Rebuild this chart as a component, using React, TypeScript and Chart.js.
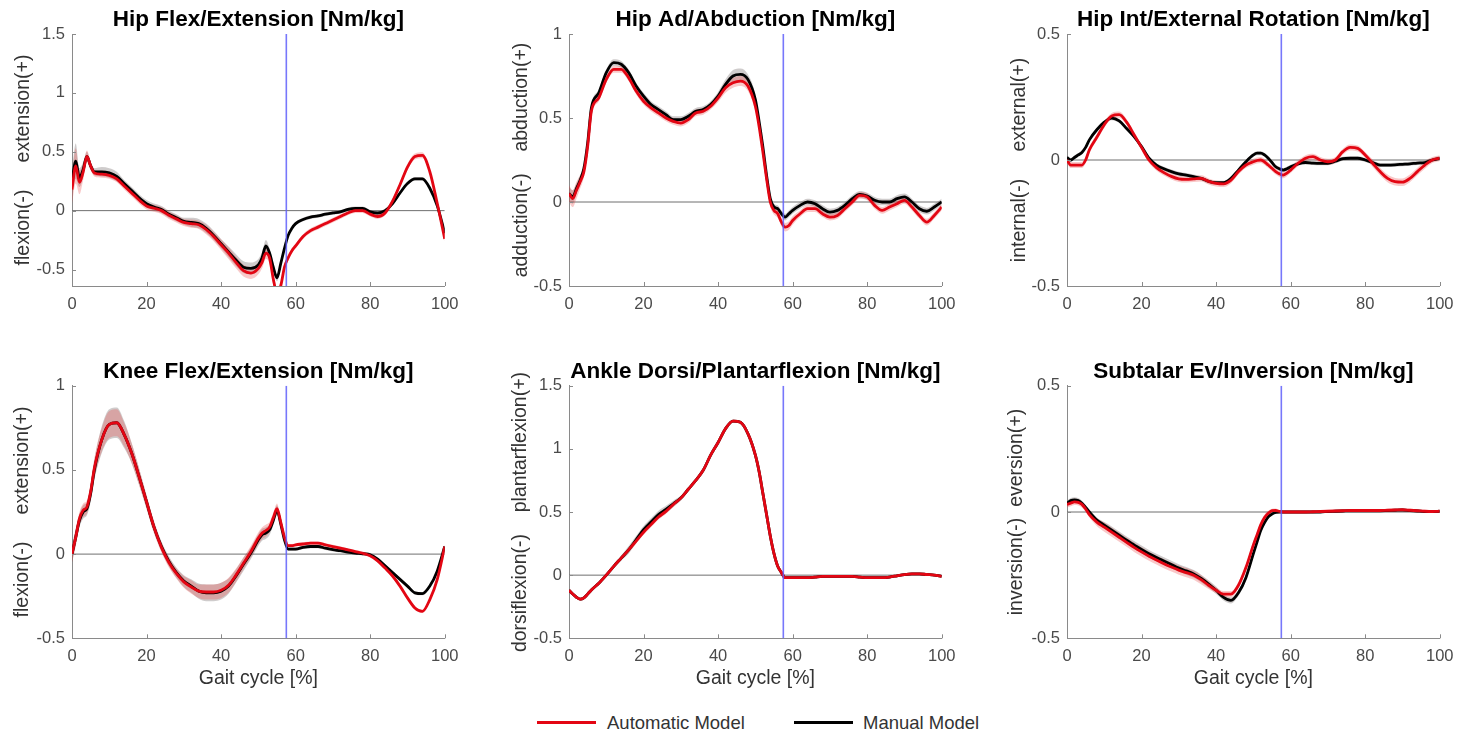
import React, { useEffect, useRef } from "react";
import { Chart, registerables } from "chart.js";

Chart.register(...registerables);

// ---------------- data ----------------
// gait cycle sample points [%]
const X = [
  0, 1, 2, 3, 4, 5, 6,
  8, 10, 12, 14, 16, 18, 20, 22, 24, 26, 28, 30, 32, 34, 36, 38, 40, 42, 44, 46, 48, 50,
  51, 52, 53, 54, 55, 56, 57, 58, 59, 60,
  62, 64, 66, 68, 70, 72, 74, 76, 78, 80, 82, 84, 86, 88, 90, 92, 94, 96, 98, 100,
];
const X_TICKS = [0, 20, 40, 60, 80, 100];
const TOE_OFF = 57.5;

// Hip flexion / extension
const HIP_FLEX_AUTO = [
  0.18, 0.38, 0.24, 0.33, 0.46, 0.38, 0.32,
  0.31, 0.30, 0.27, 0.21, 0.15, 0.09, 0.04, 0.02, 0.00, -0.04, -0.07, -0.10, -0.11, -0.12, -0.16, -0.22, -0.29, -0.36, -0.44, -0.51, -0.53, -0.49,
  -0.44, -0.36, -0.40, -0.58, -0.70, -0.64, -0.48, -0.40, -0.34, -0.30,
  -0.22, -0.17, -0.14, -0.11, -0.08, -0.05, -0.02, 0.00, 0.00, -0.03, -0.05, -0.02, 0.08, 0.22, 0.37, 0.46, 0.47, 0.33, 0.06, -0.24,
];
const HIP_FLEX_MANUAL = [
  0.25, 0.42, 0.28, 0.35, 0.46, 0.38, 0.33,
  0.33, 0.32, 0.29, 0.23, 0.17, 0.11, 0.06, 0.03, 0.01, -0.03, -0.06, -0.09, -0.10, -0.11, -0.15, -0.21, -0.28, -0.35, -0.42, -0.48, -0.49, -0.46,
  -0.40, -0.30, -0.36, -0.48, -0.57, -0.45, -0.32, -0.21, -0.15, -0.11,
  -0.075, -0.055, -0.045, -0.03, -0.02, -0.01, 0.01, 0.02, 0.02, -0.01, -0.02, 0.00, 0.06, 0.15, 0.23, 0.27, 0.27, 0.19, 0.04, -0.19,
];
const HIP_FLEX_AUTO_SD = [
  0.12, 0.15, 0.10, 0.07, 0.05, 0.04, 0.03,
  0.03, 0.03, 0.03, 0.03, 0.03, 0.03, 0.03, 0.03, 0.03, 0.03, 0.03, 0.03, 0.035, 0.035, 0.04, 0.04, 0.045, 0.05, 0.05, 0.05, 0.05, 0.05,
  0.05, 0.05, 0.05, 0.05, 0.05, 0.04, 0.03, 0.025, 0.02, 0.02,
  0.02, 0.02, 0.02, 0.02, 0.02, 0.02, 0.02, 0.02, 0.02, 0.02, 0.02, 0.02, 0.02, 0.02, 0.025, 0.025, 0.025, 0.02, 0.02, 0.02,
];
const HIP_FLEX_MANUAL_SD = [
  0.10, 0.15, 0.08, 0.06, 0.04, 0.03, 0.03,
  0.04, 0.04, 0.04, 0.03, 0.03, 0.03, 0.03, 0.03, 0.03, 0.03, 0.03, 0.03, 0.04, 0.04, 0.04, 0.04, 0.04, 0.045, 0.05, 0.05, 0.05, 0.05,
  0.05, 0.05, 0.04, 0.04, 0.03, 0.03, 0.02, 0.015, 0.015, 0.015,
  0.015, 0.015, 0.015, 0.015, 0.015, 0.015, 0.015, 0.015, 0.015, 0.015, 0.015, 0.015, 0.015, 0.015, 0.015, 0.015, 0.015, 0.015, 0.015, 0.015,
];

// Hip adduction / abduction
const HIP_AB_AUTO = [
  0.05, 0.02, 0.07, 0.12, 0.18, 0.33, 0.54,
  0.62, 0.73, 0.79, 0.79, 0.74, 0.66, 0.60, 0.56, 0.53, 0.50, 0.48, 0.47, 0.49, 0.53, 0.54, 0.57, 0.62, 0.68, 0.71, 0.72, 0.69, 0.57,
  0.45, 0.30, 0.14, 0.00, -0.05, -0.07, -0.12, -0.15, -0.14, -0.11,
  -0.07, -0.04, -0.04, -0.07, -0.09, -0.08, -0.04, 0.00, 0.04, 0.03, -0.02, -0.05, -0.03, -0.01, 0.01, -0.03, -0.08, -0.12, -0.08, -0.03,
];
const HIP_AB_MANUAL = [
  0.05, 0.03, 0.08, 0.13, 0.20, 0.35, 0.56,
  0.65, 0.77, 0.83, 0.82, 0.77, 0.69, 0.63, 0.58, 0.55, 0.52, 0.49, 0.49, 0.51, 0.54, 0.55, 0.58, 0.63, 0.70, 0.75, 0.76, 0.73, 0.61,
  0.48, 0.33, 0.16, 0.02, -0.03, -0.04, -0.07, -0.09, -0.07, -0.05,
  -0.02, 0.00, -0.01, -0.04, -0.06, -0.05, -0.02, 0.02, 0.045, 0.035, 0.01, 0.00, 0.00, 0.02, 0.03, 0.00, -0.04, -0.055, -0.03, 0.00,
];
const HIP_AB_AUTO_SD = [
  0.05, 0.05, 0.05, 0.04, 0.03, 0.02, 0.02,
  0.02, 0.02, 0.02, 0.02, 0.02, 0.02, 0.02, 0.02, 0.02, 0.02, 0.02, 0.02, 0.02, 0.02, 0.02, 0.02, 0.025, 0.03, 0.03, 0.03, 0.03, 0.03,
  0.025, 0.025, 0.025, 0.025, 0.025, 0.025, 0.025, 0.025, 0.025, 0.025,
  0.02, 0.02, 0.02, 0.02, 0.02, 0.02, 0.02, 0.02, 0.02, 0.02, 0.02, 0.02, 0.02, 0.02, 0.02, 0.02, 0.02, 0.02, 0.02, 0.02,
];
const HIP_AB_MANUAL_SD = [
  0.04, 0.04, 0.03, 0.03, 0.02, 0.02, 0.02,
  0.02, 0.02, 0.02, 0.02, 0.02, 0.02, 0.02, 0.02, 0.02, 0.02, 0.02, 0.02, 0.02, 0.02, 0.02, 0.02, 0.025, 0.03, 0.035, 0.035, 0.03, 0.03,
  0.02, 0.02, 0.02, 0.02, 0.02, 0.02, 0.02, 0.02, 0.02, 0.02,
  0.02, 0.02, 0.02, 0.02, 0.02, 0.02, 0.02, 0.02, 0.02, 0.02, 0.02, 0.02, 0.02, 0.02, 0.02, 0.02, 0.02, 0.02, 0.02, 0.02,
];

// Hip internal / external rotation
const HIP_ROT_AUTO = [
  0.00, -0.02, -0.02, -0.02, -0.02, 0.00, 0.04,
  0.09, 0.14, 0.175, 0.18, 0.15, 0.10, 0.05, 0.00, -0.03, -0.05, -0.065, -0.075, -0.077, -0.075, -0.073, -0.085, -0.093, -0.095, -0.08, -0.046, -0.02, -0.007,
  -0.002, 0.00, -0.008, -0.02, -0.033, -0.046, -0.055, -0.06, -0.052, -0.04,
  -0.013, 0.007, 0.013, 0.00, -0.007, 0.00, 0.033, 0.05, 0.046, 0.02, -0.013, -0.046, -0.073, -0.086, -0.088, -0.073, -0.046, -0.02, 0.00, 0.007,
];
const HIP_ROT_MANUAL = [
  0.01, 0.00, 0.01, 0.02, 0.03, 0.05, 0.08,
  0.12, 0.15, 0.166, 0.155, 0.125, 0.093, 0.053, 0.007, -0.02, -0.035, -0.046, -0.055, -0.06, -0.066, -0.073, -0.085, -0.09, -0.09, -0.073, -0.04, -0.007, 0.02,
  0.027, 0.027, 0.02, 0.007, -0.01, -0.027, -0.035, -0.04, -0.035, -0.027,
  -0.015, -0.01, -0.012, -0.013, -0.013, -0.005, 0.005, 0.007, 0.007, 0.00, -0.01, -0.02, -0.02, -0.019, -0.017, -0.015, -0.012, -0.01, 0.00, 0.007,
];
const HIP_ROT_AUTO_SD = [
  0.012, 0.012, 0.012, 0.012, 0.012, 0.012, 0.012,
  0.012, 0.012, 0.012, 0.012, 0.012, 0.012, 0.012, 0.012, 0.012, 0.012, 0.012, 0.012, 0.012, 0.012, 0.012, 0.012, 0.012, 0.012, 0.012, 0.012, 0.012, 0.012,
  0.012, 0.012, 0.012, 0.012, 0.012, 0.012, 0.012, 0.012, 0.012, 0.012,
  0.012, 0.012, 0.012, 0.012, 0.012, 0.012, 0.012, 0.012, 0.012, 0.012, 0.015, 0.015, 0.015, 0.015, 0.015, 0.015, 0.015, 0.015, 0.012, 0.012,
];
const HIP_ROT_MANUAL_SD = [
  0.008, 0.008, 0.008, 0.008, 0.008, 0.008, 0.008,
  0.008, 0.008, 0.008, 0.008, 0.008, 0.008, 0.008, 0.008, 0.008, 0.008, 0.008, 0.008, 0.008, 0.008, 0.008, 0.008, 0.008, 0.008, 0.008, 0.008, 0.008, 0.008,
  0.008, 0.008, 0.008, 0.008, 0.008, 0.008, 0.008, 0.008, 0.008, 0.008,
  0.008, 0.008, 0.008, 0.008, 0.008, 0.008, 0.008, 0.008, 0.008, 0.008, 0.008, 0.008, 0.008, 0.008, 0.008, 0.008, 0.008, 0.008, 0.008, 0.008,
];

// Knee flexion / extension
const KNEE_AUTO = [
  0.00, 0.10, 0.21, 0.26, 0.28, 0.37, 0.51,
  0.68, 0.77, 0.78, 0.71, 0.60, 0.46, 0.31, 0.16, 0.04, -0.05, -0.115, -0.165, -0.195, -0.22, -0.225, -0.225, -0.215, -0.185, -0.125, -0.055, 0.015, 0.095,
  0.125, 0.14, 0.16, 0.215, 0.27, 0.19, 0.10, 0.05, 0.05, 0.055,
  0.06, 0.065, 0.065, 0.055, 0.045, 0.035, 0.025, 0.015, 0.005, -0.01, -0.04, -0.083, -0.13, -0.19, -0.26, -0.32, -0.34, -0.27, -0.15, 0.045,
];
const KNEE_MANUAL = [
  0.00, 0.10, 0.20, 0.25, 0.27, 0.36, 0.50,
  0.68, 0.77, 0.78, 0.71, 0.60, 0.46, 0.31, 0.16, 0.045, -0.043, -0.11, -0.16, -0.19, -0.22, -0.23, -0.23, -0.22, -0.19, -0.13, -0.06, 0.006, 0.085,
  0.115, 0.125, 0.144, 0.20, 0.26, 0.18, 0.085, 0.03, 0.03, 0.03,
  0.04, 0.045, 0.045, 0.035, 0.026, 0.02, 0.012, 0.006, 0.002, -0.004, -0.03, -0.07, -0.11, -0.15, -0.19, -0.23, -0.235, -0.19, -0.10, 0.045,
];
const KNEE_AUTO_SD = [
  0.05, 0.05, 0.04, 0.04, 0.04, 0.05, 0.06,
  0.07, 0.08, 0.08, 0.07, 0.06, 0.05, 0.04, 0.035, 0.03, 0.03, 0.03, 0.035, 0.04, 0.04, 0.045, 0.045, 0.045, 0.045, 0.04, 0.035, 0.035, 0.035,
  0.035, 0.035, 0.03, 0.03, 0.03, 0.02, 0.015, 0.01, 0.01, 0.01,
  0.01, 0.01, 0.01, 0.01, 0.01, 0.01, 0.01, 0.01, 0.01, 0.01, 0.01, 0.01, 0.01, 0.01, 0.01, 0.01, 0.01, 0.01, 0.01, 0.01,
];
const KNEE_MANUAL_SD = [
  0.05, 0.05, 0.04, 0.04, 0.04, 0.05, 0.06,
  0.08, 0.09, 0.09, 0.08, 0.06, 0.05, 0.04, 0.035, 0.03, 0.03, 0.03, 0.035, 0.04, 0.045, 0.05, 0.05, 0.05, 0.045, 0.04, 0.04, 0.035, 0.035,
  0.035, 0.035, 0.03, 0.03, 0.03, 0.02, 0.015, 0.01, 0.01, 0.01,
  0.01, 0.01, 0.01, 0.01, 0.01, 0.01, 0.01, 0.01, 0.01, 0.01, 0.01, 0.01, 0.01, 0.01, 0.01, 0.01, 0.01, 0.01, 0.01, 0.01,
];

// Ankle dorsi / plantarflexion
const ANKLE_AUTO = [
  -0.12, -0.15, -0.175, -0.19, -0.18, -0.15, -0.117,
  -0.064, 0.00, 0.07, 0.135, 0.20, 0.27, 0.34, 0.40, 0.46, 0.505, 0.56, 0.61, 0.68, 0.75, 0.83, 0.95, 1.05, 1.16, 1.22, 1.21, 1.12, 0.95,
  0.82, 0.65, 0.48, 0.31, 0.17, 0.07, 0.02, -0.02, -0.02, -0.02,
  -0.02, -0.02, -0.015, -0.01, -0.01, -0.01, -0.01, -0.01, -0.015, -0.02, -0.02, -0.02, -0.015, -0.005, 0.005, 0.01, 0.01, 0.005, 0.00, -0.01,
];
const ANKLE_MANUAL = [
  -0.12, -0.15, -0.175, -0.19, -0.18, -0.15, -0.117,
  -0.064, 0.00, 0.07, 0.135, 0.20, 0.28, 0.36, 0.42, 0.48, 0.52, 0.565, 0.61, 0.68, 0.75, 0.83, 0.95, 1.05, 1.16, 1.22, 1.21, 1.12, 0.95,
  0.82, 0.65, 0.48, 0.31, 0.17, 0.07, 0.02, -0.02, -0.02, -0.02,
  -0.02, -0.02, -0.015, -0.01, -0.01, -0.01, -0.01, -0.01, -0.015, -0.02, -0.02, -0.02, -0.015, -0.005, 0.005, 0.01, 0.01, 0.005, 0.00, -0.01,
];
const ANKLE_AUTO_SD = [
  0.012, 0.012, 0.012, 0.012, 0.012, 0.012, 0.012,
  0.012, 0.012, 0.012, 0.015, 0.02, 0.02, 0.02, 0.02, 0.02, 0.02, 0.02, 0.015, 0.012, 0.012, 0.012, 0.012, 0.012, 0.012, 0.012, 0.012, 0.012, 0.012,
  0.012, 0.012, 0.012, 0.012, 0.012, 0.012, 0.012, 0.01, 0.01, 0.01,
  0.01, 0.01, 0.01, 0.01, 0.01, 0.01, 0.01, 0.01, 0.01, 0.01, 0.01, 0.01, 0.01, 0.01, 0.01, 0.01, 0.01, 0.01, 0.01, 0.01,
];
const ANKLE_MANUAL_SD = [
  0.01, 0.01, 0.01, 0.01, 0.01, 0.01, 0.01,
  0.01, 0.01, 0.015, 0.02, 0.03, 0.03, 0.03, 0.03, 0.03, 0.03, 0.025, 0.02, 0.015, 0.01, 0.01, 0.01, 0.01, 0.01, 0.01, 0.01, 0.01, 0.01,
  0.01, 0.01, 0.01, 0.01, 0.01, 0.01, 0.01, 0.008, 0.008, 0.008,
  0.008, 0.008, 0.008, 0.008, 0.008, 0.008, 0.008, 0.008, 0.008, 0.008, 0.008, 0.008, 0.008, 0.008, 0.008, 0.008, 0.008, 0.008, 0.008, 0.008,
];

// Subtalar eversion / inversion
const SUBTALAR_AUTO = [
  0.03, 0.035, 0.04, 0.038, 0.03, 0.012, -0.01,
  -0.04, -0.06, -0.08, -0.10, -0.12, -0.14, -0.158, -0.175, -0.19, -0.205, -0.218, -0.23, -0.24, -0.25, -0.268, -0.29, -0.31, -0.325, -0.325, -0.29, -0.22, -0.13,
  -0.09, -0.05, -0.022, -0.005, 0.005, 0.006, 0.002, 0.00, 0.00, 0.00,
  0.00, 0.00, 0.001, 0.002, 0.003, 0.004, 0.005, 0.006, 0.006, 0.006, 0.006, 0.006, 0.007, 0.008, 0.009, 0.007, 0.005, 0.003, 0.002, 0.003,
];
const SUBTALAR_MANUAL = [
  0.035, 0.045, 0.048, 0.045, 0.035, 0.018, 0.00,
  -0.032, -0.052, -0.072, -0.092, -0.112, -0.13, -0.148, -0.165, -0.18, -0.194, -0.208, -0.222, -0.233, -0.245, -0.263, -0.285, -0.31, -0.338, -0.35, -0.32, -0.26, -0.165,
  -0.118, -0.072, -0.042, -0.019, -0.008, -0.002, 0.00, 0.00, 0.00, 0.00,
  0.00, 0.00, 0.00, 0.00, 0.002, 0.003, 0.004, 0.005, 0.005, 0.005, 0.005, 0.005, 0.006, 0.007, 0.008, 0.006, 0.004, 0.002, 0.002, 0.003,
];
const SUBTALAR_AUTO_SD = [
  0.012, 0.012, 0.012, 0.012, 0.012, 0.012, 0.012,
  0.015, 0.018, 0.018, 0.018, 0.018, 0.018, 0.018, 0.018, 0.018, 0.018, 0.018, 0.018, 0.018, 0.018, 0.018, 0.015, 0.012, 0.012, 0.012, 0.012, 0.012, 0.012,
  0.012, 0.012, 0.012, 0.01, 0.008, 0.008, 0.006, 0.006, 0.006, 0.006,
  0.006, 0.006, 0.006, 0.006, 0.006, 0.006, 0.006, 0.006, 0.006, 0.006, 0.006, 0.006, 0.006, 0.006, 0.006, 0.006, 0.006, 0.006, 0.006, 0.006,
];
const SUBTALAR_MANUAL_SD = [
  0.01, 0.01, 0.01, 0.01, 0.01, 0.01, 0.01,
  0.01, 0.012, 0.015, 0.015, 0.015, 0.015, 0.015, 0.015, 0.015, 0.015, 0.015, 0.015, 0.015, 0.015, 0.015, 0.015, 0.015, 0.012, 0.012, 0.012, 0.012, 0.012,
  0.01, 0.01, 0.01, 0.008, 0.006, 0.006, 0.005, 0.005, 0.005, 0.005,
  0.005, 0.005, 0.005, 0.005, 0.005, 0.005, 0.005, 0.005, 0.005, 0.005, 0.005, 0.005, 0.005, 0.005, 0.005, 0.005, 0.005, 0.005, 0.005, 0.005,
];

const TICKS_P1 = [-0.5, 0, 0.5, 1, 1.5];
const TICKS_P2 = [-0.5, 0, 0.5, 1];
const TICKS_P3 = [-0.5, 0, 0.5];

// ---------------- styling ----------------
const FONT = "'Liberation Sans', Arial, Helvetica, sans-serif";
const RED = "#e30613";
const BLACK = "#000000";
const RED_BAND = "rgba(235, 60, 60, 0.28)";
const GRAY_BAND = "rgba(110, 100, 100, 0.33)";
const BLUE = "rgba(95, 95, 250, 0.85)";
const AXIS_C = "#8a8a8a";
const ZERO_C = "#6f6f6f";
const TICK_C = "#4a4a4a";
const LABEL_C = "#333333";

type PanelCfg = {
  title: string;
  yLabel: string;
  yMin: number;
  yMax: number;
  yTicks: number[];
  auto: number[];
  manual: number[];
  autoSd: number[];
  manualSd: number[];
  left: number;
  top: number;
  width: number;
  height: number;
  titlePad: { top: number; bottom: number };
  xAxisHeight: number;
  xTitle: boolean;
  yTitlePad: number;
};

const COL_LEFT = [0, 497, 995];
const CANVAS_W = 467;

const PANELS: PanelCfg[] = [
  {
    title: "Hip Flex/Extension [Nm/kg]", yLabel: "flexion(-)     extension(+)",
    yMin: -0.64, yMax: 1.5, yTicks: TICKS_P1,
    auto: HIP_FLEX_AUTO, manual: HIP_FLEX_MANUAL, autoSd: HIP_FLEX_AUTO_SD, manualSd: HIP_FLEX_MANUAL_SD,
    left: COL_LEFT[0], top: 0, width: CANVAS_W, height: 320, titlePad: { top: 6, bottom: 1 }, xAxisHeight: 34, xTitle: false, yTitlePad: 12,
  },
  {
    title: "Hip Ad/Abduction [Nm/kg]", yLabel: "adduction(-)    abduction(+)",
    yMin: -0.5, yMax: 1, yTicks: TICKS_P2,
    auto: HIP_AB_AUTO, manual: HIP_AB_MANUAL, autoSd: HIP_AB_AUTO_SD, manualSd: HIP_AB_MANUAL_SD,
    left: COL_LEFT[1], top: 0, width: CANVAS_W, height: 320, titlePad: { top: 6, bottom: 1 }, xAxisHeight: 34, xTitle: false, yTitlePad: 12.6,
  },
  {
    title: "Hip Int/External Rotation [Nm/kg]", yLabel: "internal(-)     external(+)",
    yMin: -0.5, yMax: 0.5, yTicks: TICKS_P3,
    auto: HIP_ROT_AUTO, manual: HIP_ROT_MANUAL, autoSd: HIP_ROT_AUTO_SD, manualSd: HIP_ROT_MANUAL_SD,
    left: COL_LEFT[2], top: 0, width: CANVAS_W, height: 320, titlePad: { top: 6, bottom: 1 }, xAxisHeight: 34, xTitle: false, yTitlePad: 12.6,
  },
  {
    title: "Knee Flex/Extension [Nm/kg]", yLabel: "flexion(-)     extension(+)",
    yMin: -0.5, yMax: 1, yTicks: TICKS_P2,
    auto: KNEE_AUTO, manual: KNEE_MANUAL, autoSd: KNEE_AUTO_SD, manualSd: KNEE_MANUAL_SD,
    left: COL_LEFT[0], top: 350, width: CANVAS_W, height: 350, titlePad: { top: 8.2, bottom: 0.5 }, xAxisHeight: 61.7, xTitle: true, yTitlePad: 11,
  },
  {
    title: "Ankle Dorsi/Plantarflexion [Nm/kg]", yLabel: "dorsiflexion(-)    plantarflexion(+)",
    yMin: -0.5, yMax: 1.5, yTicks: TICKS_P1,
    auto: ANKLE_AUTO, manual: ANKLE_MANUAL, autoSd: ANKLE_AUTO_SD, manualSd: ANKLE_MANUAL_SD,
    left: COL_LEFT[1], top: 350, width: CANVAS_W, height: 350, titlePad: { top: 8.2, bottom: 0.5 }, xAxisHeight: 61.7, xTitle: true, yTitlePad: 11.6,
  },
  {
    title: "Subtalar Ev/Inversion [Nm/kg]", yLabel: "inversion(-)  eversion(+)",
    yMin: -0.5, yMax: 0.5, yTicks: TICKS_P3,
    auto: SUBTALAR_AUTO, manual: SUBTALAR_MANUAL, autoSd: SUBTALAR_AUTO_SD, manualSd: SUBTALAR_MANUAL_SD,
    left: COL_LEFT[2], top: 350, width: CANVAS_W, height: 350, titlePad: { top: 8.2, bottom: 0.5 }, xAxisHeight: 61.7, xTitle: true, yTitlePad: 10.3,
  },
];

const inwardTicks = {
  id: "inwardTicks",
  afterDatasetsDraw(chart: any) {
    const { ctx, chartArea: a, scales } = chart;
    ctx.save();
    ctx.strokeStyle = AXIS_C;
    ctx.lineWidth = 1;
    scales.x.ticks.forEach((t: any) => {
      const px = Math.round(scales.x.getPixelForValue(t.value)) + 0.5;
      ctx.beginPath();
      ctx.moveTo(px, a.bottom);
      ctx.lineTo(px, a.bottom - 4);
      ctx.stroke();
    });
    scales.y.ticks.forEach((t: any) => {
      const py = Math.round(scales.y.getPixelForValue(t.value)) + 0.5;
      ctx.beginPath();
      ctx.moveTo(a.left, py);
      ctx.lineTo(a.left + 4, py);
      ctx.stroke();
    });
    ctx.restore();
  },
};

const fmt = (v: number | string) => String(Number(v));

function Panel({ cfg }: { cfg: PanelCfg }) {
  const ref = useRef<HTMLCanvasElement | null>(null);
  useEffect(() => {
    if (!ref.current) return;
    const pts = (ys: number[]) => X.map((x, i) => ({ x, y: ys[i] }));
    const bound = (ys: number[], sd: number[], s: number) => X.map((x, i) => ({ x, y: ys[i] + s * sd[i] }));
    const curve = { pointRadius: 0, cubicInterpolationMode: "monotone" as const, fill: false };
    const edge = { ...curve, borderWidth: 0, borderColor: "transparent" };
    const chart = new Chart(ref.current, {
      type: "line",
      data: {
        datasets: [
          { label: "Automatic Model", data: pts(cfg.auto), borderColor: RED, borderWidth: 2.8, order: 1, ...curve },
          { label: "Manual Model", data: pts(cfg.manual), borderColor: BLACK, borderWidth: 2.8, order: 2, ...curve },
          { label: "auto+", data: bound(cfg.auto, cfg.autoSd, 1), order: 3, ...edge },
          { label: "auto-", data: bound(cfg.auto, cfg.autoSd, -1), order: 3, ...edge, fill: 2, backgroundColor: RED_BAND },
          { label: "manual+", data: bound(cfg.manual, cfg.manualSd, 1), order: 4, ...edge },
          { label: "manual-", data: bound(cfg.manual, cfg.manualSd, -1), order: 4, ...edge, fill: 4, backgroundColor: GRAY_BAND },
          { label: "zero", data: [{ x: 0, y: 0 }, { x: 100, y: 0 }], borderColor: ZERO_C, borderWidth: 1, pointRadius: 0, tension: 0, fill: false, order: 5 },
          { label: "toe-off", data: [{ x: TOE_OFF, y: cfg.yMin }, { x: TOE_OFF, y: cfg.yMax }], borderColor: BLUE, borderWidth: 1.6, pointRadius: 0, tension: 0, fill: false, order: 0 },
        ],
      },
      options: {
        animation: false,
        responsive: false,
        events: [],
        layout: { padding: { left: 0, right: 18, top: 0, bottom: 0 } },
        plugins: {
          legend: { display: false },
          tooltip: { enabled: false },
          title: {
            display: true,
            text: cfg.title,
            fullSize: false,
            color: "#000",
            font: { family: FONT, size: 22.5, weight: "bold", lineHeight: 1.2 },
            padding: cfg.titlePad,
          },
        },
        scales: {
          x: {
            type: "linear",
            min: 0,
            max: 100,
            afterBuildTicks: (s: any) => { s.ticks = X_TICKS.map((v) => ({ value: v })); },
            afterFit: (s: any) => { s.height = cfg.xAxisHeight; },
            grid: { display: false, drawTicks: false },
            border: { display: true, color: AXIS_C, width: 1 },
            ticks: { color: TICK_C, font: { family: FONT, size: 16.5 }, padding: 8.5, maxRotation: 0, autoSkip: false, callback: fmt },
            title: {
              display: cfg.xTitle,
              text: "Gait cycle [%]",
              color: LABEL_C,
              font: { family: FONT, size: 19.5, lineHeight: 1.2 },
              padding: { top: 0, bottom: 9.3 },
            },
          },
          y: {
            type: "linear",
            min: cfg.yMin,
            max: cfg.yMax,
            afterBuildTicks: (s: any) => { s.ticks = cfg.yTicks.map((v) => ({ value: v })); },
            afterFit: (s: any) => { s.width = 72; },
            grid: { display: false, drawTicks: false },
            border: { display: true, color: AXIS_C, width: 1 },
            ticks: { color: TICK_C, font: { family: FONT, size: 16.5 }, padding: 7, callback: fmt },
            title: {
              display: true,
              text: cfg.yLabel,
              color: LABEL_C,
              font: { family: FONT, size: 19.5, lineHeight: 1.2 },
              padding: { top: cfg.yTitlePad, bottom: 0 },
            },
          },
        },
      },
      plugins: [inwardTicks],
    } as any);
    return () => chart.destroy();
  }, [cfg]);
  return (
    <canvas
      ref={ref}
      width={cfg.width}
      height={cfg.height}
      style={{ position: "absolute", left: cfg.left, top: cfg.top, width: cfg.width, height: cfg.height }}
    />
  );
}

const LEGEND_FONT = { fontFamily: FONT, fontSize: 18.5, color: "#333", lineHeight: "22px" };

export default function App() {
  return (
    <div style={{ position: "absolute", left: 0, top: 0, width: 1464, height: 735, background: "#fff", overflow: "hidden" }}>
      {PANELS.map((p, i) => (
        <Panel key={i} cfg={p} />
      ))}
      <div style={{ position: "absolute", left: 537, top: 721, width: 59, height: 3, background: RED }} />
      <div style={{ position: "absolute", left: 607, top: 712, whiteSpace: "nowrap", ...LEGEND_FONT }}>Automatic Model</div>
      <div style={{ position: "absolute", left: 794, top: 721, width: 59, height: 3, background: BLACK }} />
      <div style={{ position: "absolute", left: 863, top: 712, whiteSpace: "nowrap", ...LEGEND_FONT }}>Manual Model</div>
    </div>
  );
}
